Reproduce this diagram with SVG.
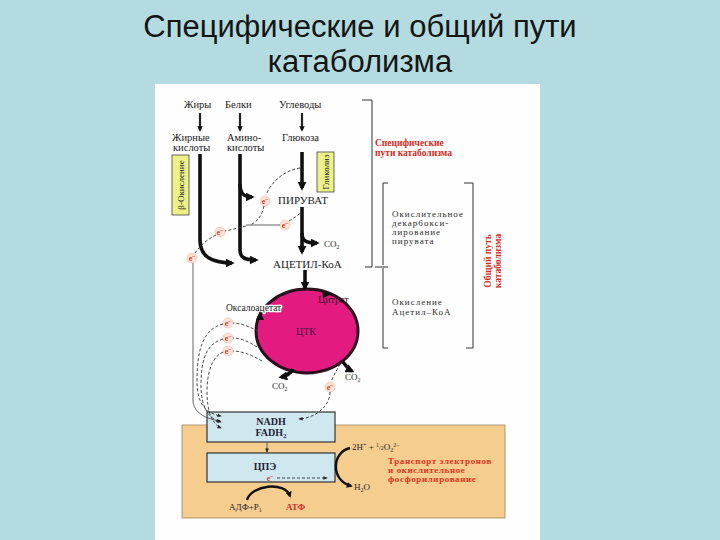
<svg xmlns="http://www.w3.org/2000/svg" width="720" height="540" viewBox="0 0 720 540">
<defs>
<marker id="ah" viewBox="0 0 10 10" refX="7" refY="5" markerWidth="2.5" markerHeight="2.5" orient="auto"><path d="M0,0 L10,5 L0,10 z" fill="#111"/></marker>
<marker id="ahs" viewBox="0 0 10 10" refX="8" refY="5" markerWidth="5" markerHeight="5" orient="auto"><path d="M0,1 L10,5 L0,9 z" fill="#222"/></marker>
<style>
.title{font-family:"Liberation Sans",Arial,sans-serif;font-size:31px;fill:#151515;text-anchor:middle}
.t{font-family:"Liberation Serif","Times New Roman",serif;font-size:10.5px;fill:#1a1a1a}
.tb{font-family:"Liberation Serif","Times New Roman",serif;font-size:11px;fill:#1a1a1a}
.s{font-family:"Liberation Serif","Times New Roman",serif;font-size:9px;fill:#2a2a2a}
.m{font-family:"Liberation Serif","Times New Roman",serif;font-size:9px;letter-spacing:1px;fill:#2a2a2a}
.red{font-family:"Liberation Serif","Times New Roman",serif;font-size:9.5px;font-weight:bold;fill:#d02a22}
.redb{font-family:"Liberation Serif","Times New Roman",serif;font-size:9px;letter-spacing:0.6px;font-weight:bold;fill:#e0321e}
.box{font-family:"Liberation Serif","Times New Roman",serif;font-size:10px;font-weight:bold;fill:#223}
.thick{fill:none;stroke:#111;stroke-width:3.6;marker-end:url(#ah)}
.thin{fill:none;stroke:#222;stroke-width:2.2;marker-end:url(#ah)}
.dash{fill:none;stroke:#333;stroke-width:0.9;stroke-dasharray:3 2}
.line{fill:none;stroke:#555;stroke-width:0.9}
.br{fill:none;stroke:#333;stroke-width:1}
.ec{fill:#fbe3d8;stroke:#f2b7a4;stroke-width:0.6}
.et{font-family:"Liberation Serif",serif;font-size:8px;fill:#d83a20;text-anchor:middle;font-weight:bold}
.yl{fill:#eef08a;stroke:#444;stroke-width:0.8}
.yt{font-family:"Liberation Serif",serif;font-size:9px;fill:#222;text-anchor:middle}
.blue{fill:#cfe7ef;stroke:#333;stroke-width:1.2}
</style>
</defs>
<rect width="720" height="540" fill="#b4dce0"/>
<text class="title" x="360" y="37">Специфические и общий пути</text>
<text class="title" x="360" y="72">катаболизма</text>
<rect x="155" y="84" width="385" height="456" fill="#fefefe"/>

<g id="tan-region"><rect x="182" y="425" width="323" height="93" fill="#f5cd8f" stroke="#9a8660" stroke-width="0.8"/></g>

<g id="sources">
<text class="t" x="184" y="108">Жиры</text>
<text class="t" x="225" y="108">Белки</text>
<text class="t" x="279" y="108">Углеводы</text>
</g>
<g id="fatty-acids"><text class="t" x="172" y="141">Жирные</text><text class="t" x="173" y="151">кислоты</text></g>
<g id="amino-acids"><text class="t" x="227" y="141">Амино-</text><text class="t" x="227" y="151">кислоты</text></g>
<g id="glucose"><text class="t" x="282" y="141">Глюкоза</text></g>
<g id="beta-ox"><rect class="yl" x="172" y="155" width="17" height="60"/><text class="yt" transform="translate(184 185) rotate(-90)">β-Окисление</text></g>
<g id="glycolysis"><rect class="yl" x="317" y="152" width="17" height="40"/><text class="yt" transform="translate(329 172) rotate(-90)">Гликолиз</text></g>
<g id="pyruvate"><text class="tb" x="278" y="204">ПИРУВАТ</text></g>
<g id="acetyl-coa"><text class="tb" x="273" y="268">АЦЕТИЛ-КоА</text></g>
<g id="co2-a"><text class="s" x="324" y="247">CO<tspan font-size="6" dy="2">2</tspan></text></g>

<g id="tca">
<ellipse cx="307" cy="331" rx="51" ry="42" fill="#e31b80" stroke="#2a0f1c" stroke-width="3"/>
<text x="306" y="335" font-family="Liberation Serif,serif" font-size="10" fill="#4a1040" text-anchor="middle">ЦТК</text>
<text x="318" y="303" font-family="Liberation Serif,serif" font-size="10" fill="#3a0d22">Цитрат</text>
<text x="226" y="311" font-family="Liberation Serif,serif" font-size="9.5" fill="#1a1a1a" stroke="#fefefe" stroke-width="2.5" paint-order="stroke" stroke-linejoin="round">Оксалоацетат</text>
<path d="M322 291 L332 294 L323 298 z" fill="#111"/>
<path d="M256 320 L260 311 L264 320 z" fill="#111"/>
</g>
<g id="co2-b"><text class="s" x="272" y="389">CO<tspan font-size="6" dy="2">2</tspan></text></g>
<g id="co2-c"><text class="s" x="345" y="380">CO<tspan font-size="6" dy="2">2</tspan></text></g>

<g id="nadh"><rect class="blue" x="207" y="412" width="128" height="30"/><text class="box" x="271" y="425" text-anchor="middle">NADH</text><text class="box" x="271" y="436" text-anchor="middle">FADH<tspan font-size="7" dy="2">2</tspan></text></g>
<g id="etc"><rect class="blue" x="207" y="453" width="128" height="29"/><text class="box" x="265" y="470" text-anchor="middle">ЦПЭ</text><text class="et" x="270" y="481">e<tspan font-size="6" dy="-3">–</tspan></text></g>
<g id="adp"><text class="s" x="229" y="510">АДФ+P<tspan font-size="6" dy="2">1</tspan></text><text x="286" y="510" font-family="Liberation Serif,serif" font-size="9" font-weight="bold" fill="#d02a22">АТФ</text></g>
<g id="oxygen"><text class="s" x="352" y="450">2H<tspan font-size="6" dy="-3">+</tspan><tspan dy="3"> + </tspan><tspan font-size="6" dy="-3">1</tspan><tspan font-size="6" dy="3">/2</tspan>O<tspan font-size="6" dy="2">2</tspan><tspan font-size="6" dy="-5">2–</tspan></text><text class="s" x="354" y="490">H<tspan font-size="6" dy="2">2</tspan><tspan dy="-2">O</tspan></text></g>

<g id="labels">
<text class="red" x="375" y="146">Специфические</text>
<text class="red" x="375" y="156">пути катаболизма</text>
<text class="m" x="392" y="217">Окислительное</text>
<text class="m" x="392" y="226">декарбокси-</text>
<text class="m" x="392" y="235">лирование</text>
<text class="m" x="392" y="244">пирувата</text>
<text class="m" x="392" y="305">Окисление</text>
<text class="m" x="392" y="315">Ацетил–КоА</text>
<text class="red" transform="translate(491 261) rotate(-90)" text-anchor="middle">Общий путь</text>
<text class="red" transform="translate(501 261) rotate(-90)" text-anchor="middle">катаболизма</text>
<text class="redb" x="388" y="464">Транспорт электронов</text>
<text class="redb" x="388" y="473">и окислительное</text>
<text class="redb" x="388" y="482">фосфорилирование</text>
</g>

<g id="electrons">
<circle class="ec" cx="265" cy="201" r="5"/><text class="et" x="265" y="204">e<tspan font-size="6" dy="-3">–</tspan></text>
<circle class="ec" cx="285" cy="225" r="5"/><text class="et" x="285" y="228">e<tspan font-size="6" dy="-3">–</tspan></text>
<circle class="ec" cx="220" cy="232" r="5"/><text class="et" x="220" y="235">e<tspan font-size="6" dy="-3">–</tspan></text>
<circle class="ec" cx="192" cy="258" r="5"/><text class="et" x="192" y="261">e<tspan font-size="6" dy="-3">–</tspan></text>
<circle class="ec" cx="228" cy="323" r="5"/><text class="et" x="228" y="326">e<tspan font-size="6" dy="-3">–</tspan></text>
<circle class="ec" cx="228" cy="338" r="5"/><text class="et" x="228" y="341">e<tspan font-size="6" dy="-3">–</tspan></text>
<circle class="ec" cx="228" cy="351" r="5"/><text class="et" x="228" y="354">e<tspan font-size="6" dy="-3">–</tspan></text>
<circle class="ec" cx="330" cy="387" r="5"/><text class="et" x="330" y="390">e<tspan font-size="6" dy="-3">–</tspan></text>
</g>

<g id="connectors">
<path class="thin" d="M200 113 L200 130"/>
<path class="thin" d="M240 113 L240 130"/>
<path class="thin" d="M302 113 L302 130"/>
<path class="thick" d="M200 154 L200 240 C200 257 212 263 232 263"/>
<path class="thick" d="M240 154 L240 250 C240 257 244 260 256 260"/>
<path class="thick" d="M240 184 C240 194 244 197 252 197"/>
<path class="thick" d="M302 152 L302 188"/>
<path class="thick" d="M302 207 L302 252"/>
<path class="thick" d="M302 233 C302 241 306 243 317 243"/>
<path class="thick" d="M305 270 L305 288"/>
<path class="thick" d="M293 369 C290 374 287 376 281 377"/>
<path class="thick" d="M343 362 C346 366 348 369 352 371"/>
<path class="dash" d="M300 168 C286 170 272 180 266 195"/>
<path class="dash" d="M264 206 C262 216 257 222 250 225"/>
<path class="line" d="M246 225 L280 225"/>
<path class="dash" d="M289 221 C294 218 298 215 302 212"/>
<path class="dash" d="M246 226 C238 228 230 230 225 231"/>
<path class="dash" d="M216 235 C206 240 199 247 195 253"/>
<path class="line" d="M193 263 L193 400 C193 412 205 419 220 421" marker-end="url(#ahs)"/>
<path class="dash" d="M258 331 C248 326 240 323 233 323"/>
<path class="dash" d="M257 347 C248 341 240 338 233 338"/>
<path class="dash" d="M262 361 C250 354 240 351 233 351"/>
<path class="dash" d="M223 324 C203 329 197 350 197 380 C197 404 205 413 221 416" marker-end="url(#ahs)"/>
<path class="dash" d="M223 339 C206 344 201 360 201 385 C201 408 209 419 221 422" marker-end="url(#ahs)"/>
<path class="dash" d="M223 352 C212 357 207 372 207 392 C207 411 212 424 221 428" marker-end="url(#ahs)"/>
<path class="dash" d="M340 364 C337 370 333 376 331 382"/>
<path class="dash" d="M330 392 C330 406 316 418 299 419" marker-end="url(#ahs)"/>
<path class="line" d="M267 442 L267 452" marker-end="url(#ahs)"/>
<path class="dash" d="M277 478 L327 478" marker-end="url(#ahs)"/>
<path fill="none" stroke="#111" stroke-width="2.4" d="M247 500 C251 485 285 481 290 496" marker-end="url(#ah)"/>
<path fill="none" stroke="#111" stroke-width="2.4" d="M350 448 C332 452 330 480 351 486" marker-end="url(#ah)"/>
<path class="br" d="M362 100 L372 100 L372 267 L365 267"/>
<path class="br" d="M388 183 L383 183 L383 265 M375 267 L388 267 M383 268 L383 348 L388 348"/>
<path class="br" d="M464 183 L473 183 L473 348 L466 348"/>
</g>
</svg>
